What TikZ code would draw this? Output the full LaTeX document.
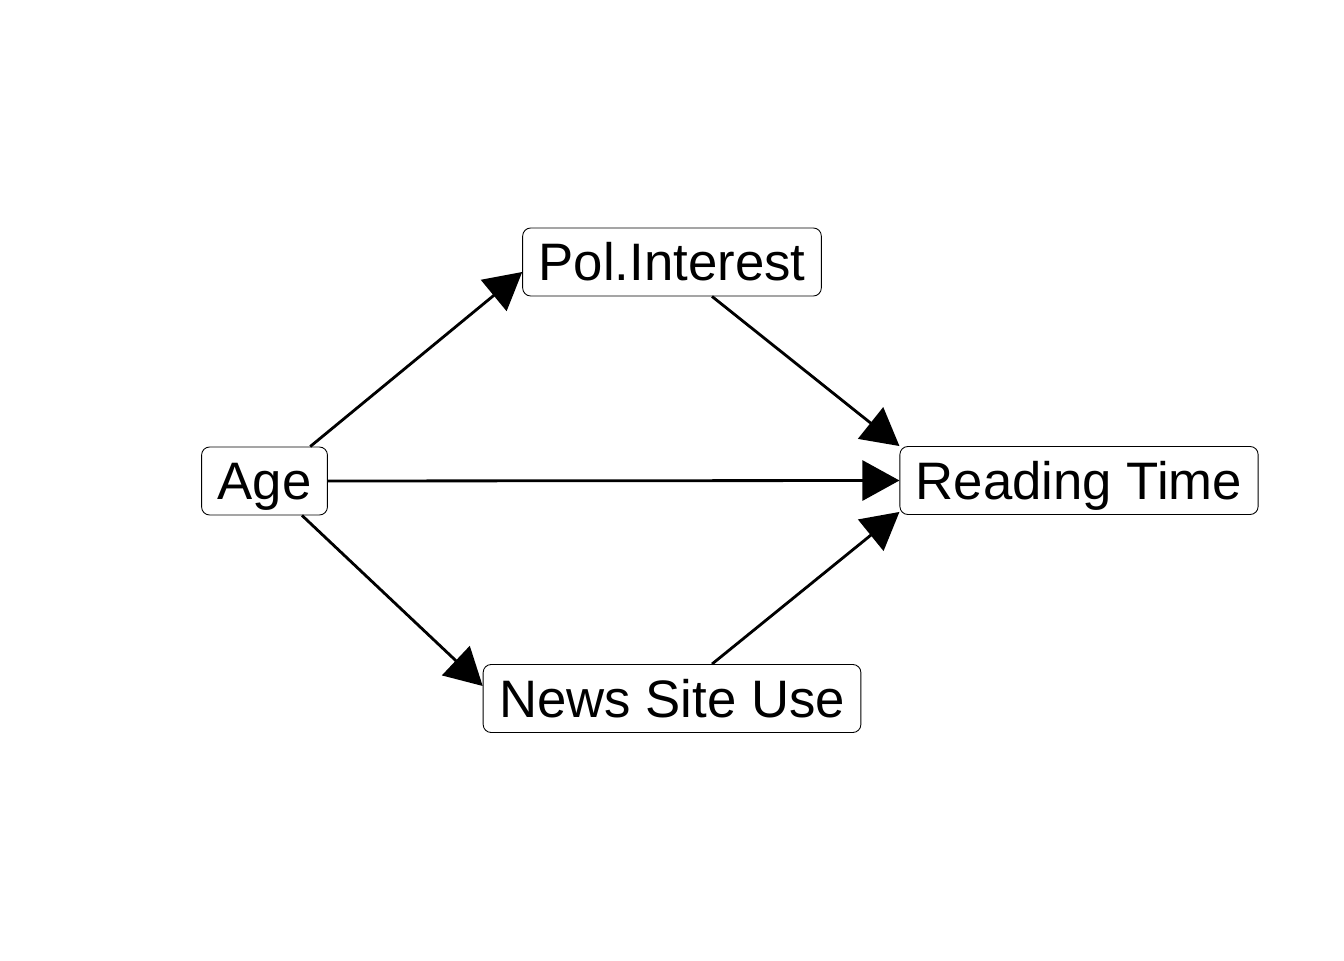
\documentclass[tikz,border=0pt]{standalone}
\usepackage{fontspec}
\setmainfont{Liberation Sans}
\usepackage{tikz}
\usetikzlibrary{arrows.meta, positioning}
\tikzset{
  varb/.style={rectangle, rounded corners=0.16cm, draw=black, line width=0.5pt,
               fill=white, font=\fontsize{30}{36}\selectfont, inner xsep=0.32cm,
               inner ysep=0pt, text height=1.06cm, text depth=0.30cm},
  link/.style={-{Triangle[length=0.74cm, width=0.8cm]}, line width=1.6pt, draw=black},
}
\begin{document}
\begin{tikzpicture}
  \useasboundingbox (0,0) rectangle (26.88,19.2);
  \node[varb] (age) at (5.29,9.58)  {Age};
  \node[varb] (pol) at (13.44,13.96) {Pol.Interest};
  \node[varb] (rt)  at (21.58,9.59) {Reading Time};
  \node[varb] (nsu) at (13.44,5.23)  {News Site Use};
  \draw[link] (age.37) -- ([yshift=-0.2cm]pol.west);
  \draw[link] (age.east) -- (rt.west);
  \draw[link] ([xshift=0.75cm]age.south) -- ([yshift=0.25cm]nsu.west);
  \draw[link] ([xshift=0.8cm]pol.south) -- (rt.north west);
  \draw[link] ([xshift=0.8cm]nsu.north) -- ([yshift=0.06cm]rt.south west);
\end{tikzpicture}
\end{document}
